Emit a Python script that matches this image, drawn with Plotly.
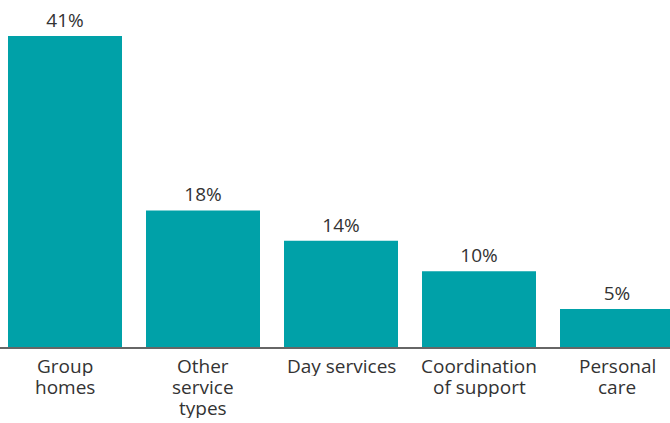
import plotly.graph_objects as go

categories = ["Group homes", "Other service types", "Day services", "Coordination of support", "Personal care"]
category_lines = [["Group", "homes"], ["Other", "service", "types"], ["Day services"], ["Coordination", "of support"], ["Personal", "care"]]
values = [41, 18, 14, 10, 5]
labels = ["41%", "18%", "14%", "10%", "5%"]

FONT = "Open Sans"
TXT = "#333333"

fig = go.Figure(go.Bar(
    x=list(range(len(categories))), y=values, text=labels, textposition="outside",
    marker=dict(color="#00A1A8", line=dict(width=0)),
    textfont=dict(family=FONT, size=19, color=TXT),
    cliponaxis=False, width=114/138, hoverinfo="skip",
))

annotations = []
for i, lines in enumerate(category_lines):
    for j, line in enumerate(lines):
        annotations.append(dict(
            x=i, y=0, xref="x", yref="y", text=line, showarrow=False,
            yanchor="top", xanchor="center", yshift=-6 - 21 * j,
            height=21, valign="middle",
            font=dict(family=FONT, size=19, color=TXT),
        ))

fig.update_layout(
    width=670, height=423, margin=dict(l=0, r=0, t=0, b=76),
    plot_bgcolor="white", paper_bgcolor="white", showlegend=False,
    font=dict(family=FONT, size=19, color=TXT),
    annotations=annotations,
    xaxis=dict(range=[-65/138, -65/138 + 670/138], showline=True, linecolor="#666666", linewidth=2,
               ticks="", showticklabels=False, fixedrange=True, zeroline=False, showgrid=False),
    yaxis=dict(range=[0, 347/7.585], visible=False, showgrid=False, fixedrange=True),
)
fig.write_html("out.html")
